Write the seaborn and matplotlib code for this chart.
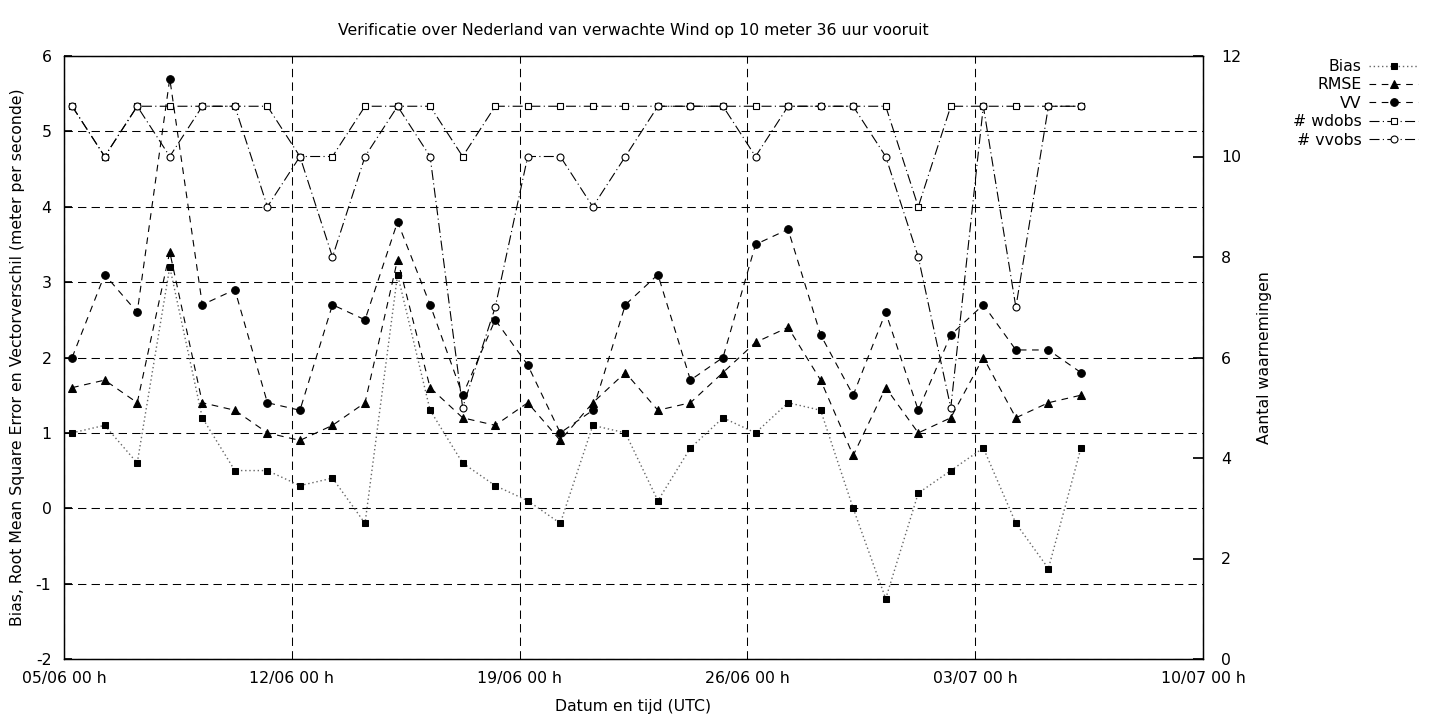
import matplotlib
matplotlib.use("Agg")
import matplotlib.pyplot as plt
import matplotlib.dates as mdates
import pandas as pd
import seaborn as sns

# ---------------- DATA ----------------
dates = pd.date_range("2023-06-05 06:00", periods=32, freq="D")

bias = [1.0, 1.1, 0.6, 3.2, 1.2, 0.5, 0.5, 0.3, 0.4, -0.2, 3.1, 1.3,
        0.6, 0.3, 0.1, -0.2, 1.1, 1.0, 0.1, 0.8, 1.2, 1.0, 1.4, 1.3,
        0.0, -1.2, 0.2, 0.5, 0.8, -0.2, -0.8, 0.8]
rmse = [1.6, 1.7, 1.4, 3.4, 1.4, 1.3, 1.0, 0.9, 1.1, 1.4, 3.3, 1.6,
        1.2, 1.1, 1.4, 0.9, 1.4, 1.8, 1.3, 1.4, 1.8, 2.2, 2.4, 1.7,
        0.7, 1.6, 1.0, 1.2, 2.0, 1.2, 1.4, 1.5]
vv = [2.0, 3.1, 2.6, 5.7, 2.7, 2.9, 1.4, 1.3, 2.7, 2.5, 3.8, 2.7,
      1.5, 2.5, 1.9, 1.0, 1.3, 2.7, 3.1, 1.7, 2.0, 3.5, 3.7, 2.3,
      1.5, 2.6, 1.3, 2.3, 2.7, 2.1, 2.1, 1.8]
wdobs = [11, 10, 11, 11, 11, 11, 11, 10, 10, 11, 11, 11,
         10, 11, 11, 11, 11, 11, 11, 11, 11, 11, 11, 11,
         11, 11, 9, 11, 11, 11, 11, 11]
vvobs = [11, 10, 11, 10, 11, 11, 9, 10, 8, 10, 11, 10,
         5, 7, 10, 10, 9, 10, 11, 11, 11, 10, 11, 11,
         11, 10, 8, 5, 11, 7, 11, 11]

tick_dates = pd.date_range("2023-06-05", "2023-07-10", freq="7D")

# ---------------- STYLE ----------------
FS = 11.3
sns.set_theme(style="white")
plt.rcParams["font.family"] = ["DejaVu Sans"]
plt.rcParams["font.size"] = FS
plt.rcParams["axes.unicode_minus"] = False
plt.rcParams["axes.edgecolor"] = "black"
plt.rcParams["axes.linewidth"] = 0.9
plt.rcParams["text.color"] = "black"
plt.rcParams["axes.labelcolor"] = "black"
plt.rcParams["xtick.color"] = "black"
plt.rcParams["ytick.color"] = "black"

fig = plt.figure(figsize=(14.4, 7.2), dpi=100)
fig.subplots_adjust(left=64 / 1440, right=1203 / 1440,
                    top=1 - 56 / 720, bottom=1 - 659 / 720)
ax = fig.add_subplot(111)
ax2 = ax.twinx()

dashed = (0, (6, 5))
dashdot = (0, (9, 3, 1, 3))

# ---------------- LINES ----------------
sns.lineplot(x=dates, y=bias, ax=ax, color="0.4", linestyle=(0, (1, 2)),
             linewidth=1, marker="s", markersize=5, mfc="black", mec="black",
             label="Bias")
sns.lineplot(x=dates, y=rmse, ax=ax, color="black", linestyle=dashed,
             linewidth=0.8, marker="^", markersize=6, mfc="black", mec="black",
             label="RMSE")
sns.lineplot(x=dates, y=vv, ax=ax, color="black", linestyle=dashed,
             linewidth=0.8, marker="o", markersize=5.5, mfc="black", mec="black",
             label="VV")
sns.lineplot(x=dates, y=wdobs, ax=ax2, color="black", linestyle=dashdot,
             linewidth=0.8, marker="s", markersize=5, mfc="white", mec="black",
             mew=0.8, label="# wdobs")
sns.lineplot(x=dates, y=vvobs, ax=ax2, color="black", linestyle=dashdot,
             linewidth=0.8, marker="o", markersize=5, mfc="white", mec="black",
             mew=0.8, label="# vvobs")

for a in (ax, ax2):
    if a.get_legend() is not None:
        a.get_legend().remove()

# ---------------- AXES ----------------
ax.set_xlim(tick_dates[0], tick_dates[-1])
ax.set_xticks(tick_dates)
ax.xaxis.set_major_formatter(mdates.DateFormatter("%d/%m %H h"))
ax.set_ylim(-2, 6)
ax.set_yticks(range(-2, 7))
ax2.set_ylim(0, 12)
ax2.set_yticks(range(0, 13, 2))

ax.grid(True, color="black", linewidth=0.75, linestyle=(0, (8, 5)))
ax.tick_params(axis="x", direction="in", length=0, pad=9, labelsize=FS)
ax.tick_params(axis="y", direction="in", length=6, pad=9, labelsize=FS)
ax2.tick_params(axis="y", direction="in", length=7, pad=13, labelsize=FS)
for a in (ax, ax2):
    for s in a.spines.values():
        s.set_visible(True)
        s.set_color("black")
        s.set_linewidth(0.9)

ax.set_title("Verificatie over Nederland van verwachte Wind op 10 meter 36 uur vooruit",
             fontsize=FS, pad=15)
ax.set_xlabel("Datum en tijd (UTC)", fontsize=FS)
ax.xaxis.set_label_coords(0.5, -0.066)
ax.set_ylabel("Bias, Root Mean Square Error en Vectorverschil (meter per seconde)",
              fontsize=FS)
ax.yaxis.set_label_coords(-0.034, 0.5)
ax2.set_ylabel("Aantal waarnemingen", fontsize=FS)
ax2.yaxis.set_label_coords(1.047, 0.5)

# ---------------- LEGEND ----------------
h1, l1 = ax.get_legend_handles_labels()
h2, l2 = ax2.get_legend_handles_labels()
fig.legend(h1 + h2, l1 + l2, loc="upper right", bbox_to_anchor=(1418 / 1440, 1 - 59 / 720),
           frameon=False, markerfirst=False, fontsize=FS, handlelength=3.1,
           handletextpad=0.5, labelspacing=0.22, borderpad=0, borderaxespad=0)

plt.savefig("out.png", dpi=100)
